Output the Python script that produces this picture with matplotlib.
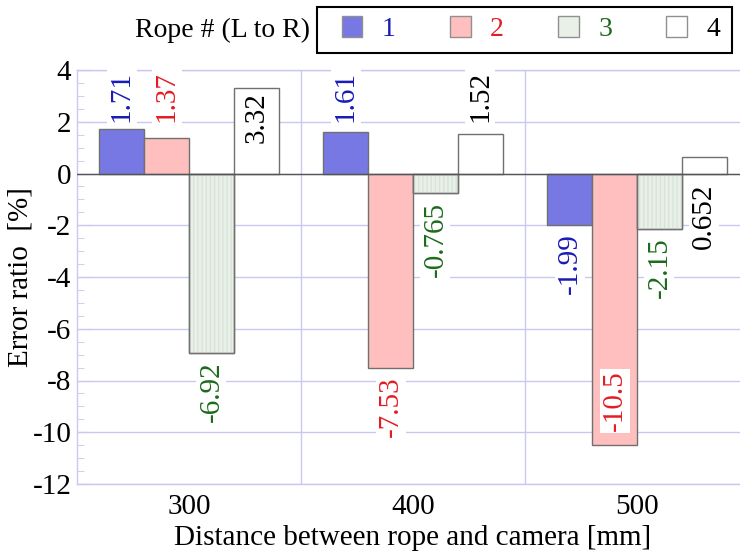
import numpy as np
import matplotlib.pyplot as plt
from matplotlib.patches import Patch, Rectangle

plt.rcParams['font.family'] = ['Liberation Serif', 'DejaVu Serif']
plt.rcParams['axes.unicode_minus'] = False

# Data
distances = ['300', '400', '500']
rope1 = [1.71, 1.61, -1.99]
rope2 = [1.37, -7.53, -10.5]
rope3 = [-6.92, -0.765, -2.15]
rope4 = [3.32, 1.52, 0.652]
rope_names = ['1', '2', '3', '4']

# where each value label sits (per distance, per rope)
label_modes = [['above', 'above', 'below', 'inside'],
               ['above', 'below', 'below', 'above'],
               ['below', 'inside', 'below', 'under_zero']]

face_cols = ['#7878e4', '#ffbfbf', '#e8f0e8', '#ffffff']
text_cols = ['#1a1ab8', '#e41c24', '#1c6a1c', '#000000']
grid_col = '#c8c8f0'

fig = plt.figure(figsize=(7.4, 5.54), dpi=100)
ax = fig.add_axes([77/740, 70/554, 672/740, 414/554])

values = np.array([rope1, rope2, rope3, rope4])  # rope x distance
x = np.arange(len(distances))
width = 0.2
offsets = [-0.3, -0.1, 0.1, 0.3]

for i in range(4):
    ax.bar(x + offsets[i], values[i], width, color=face_cols[i],
           edgecolor='#707070', linewidth=1.0, zorder=3)
    if i == 2:
        # faint vertical stripes on rope 3
        ax.bar(x + offsets[i], values[i], width, color='none',
               edgecolor='#d9e4d9', hatch='||||', linewidth=0, zorder=3.5)
        ax.bar(x + offsets[i], values[i], width, color='none',
               edgecolor='#707070', linewidth=1.0, zorder=3.6)

# value labels
for g in range(len(distances)):
    for i in range(4):
        v = values[i][g]
        xp = x[g] + offsets[i]
        mode = label_modes[g][i]
        if mode == 'above':
            xy, dy, va = (xp, 2.0), 0, 'bottom'
        elif mode == 'below':
            xy, dy, va = (xp, v), -6, 'top'
        elif mode == 'inside' and v > 0:
            xy, dy, va = (xp, v), -3, 'top'
        elif mode == 'inside':
            xy, dy, va = (xp, v), 10, 'bottom'
        else:
            xy, dy, va = (xp, 0), -7, 'top'
        ax.annotate(f'{v:.3g}', xy=xy, xytext=(0, dy), textcoords='offset points',
                    rotation=90, ha='center', va=va, fontsize=21, color=text_cols[i],
                    bbox=dict(fc='white', ec='none', pad=1.5), zorder=5)

ax.axhline(0, color='#555555', linewidth=1.0, zorder=4)

ax.set_xlim(-0.5, 2.5)
ax.set_ylim(-12, 4)
ax.set_xticks(x)
ax.set_xticklabels(distances)
ax.set_xticks([0.5, 1.5], minor=True)
ax.set_yticks(np.arange(-12, 5, 2))
ax.set_yticks(np.arange(-12, 4.1, 0.5), minor=True)
ax.tick_params(axis='x', which='both', length=0, labelsize=21, pad=7)
ax.tick_params(axis='y', which='major', direction='in', length=9, color=grid_col,
               labelsize=21, pad=4)
ax.tick_params(axis='y', which='minor', direction='in', length=5, color=grid_col)
ax.grid(True, axis='y', which='major', color=grid_col, linewidth=1.0, zorder=0)
ax.grid(True, axis='x', which='minor', color=grid_col, linewidth=1.0, zorder=0)
ax.set_axisbelow(True)
for s in ax.spines.values():
    s.set_color(grid_col)
    s.set_linewidth(1.0)

ax.set_xlabel('Distance between rope and camera [mm]', fontsize=21, labelpad=4)
ax.set_ylabel('Error ratio  [%]', fontsize=21)
ax.yaxis.set_label_coords(-0.064, 0.5)

# legend on top
handles = [Patch(facecolor=face_cols[i], edgecolor='#909090', linewidth=1.0)
           for i in range(4)]
leg = fig.legend(handles, rope_names, ncol=4, loc='center', frameon=False,
                 bbox_to_anchor=(531/740, 1 - 29/554), fontsize=20,
                 handlelength=0.75, handleheight=0.8, handletextpad=0.7,
                 columnspacing=1.95)
for t, c in zip(leg.get_texts(), text_cols):
    t.set_color(c)
fig.add_artist(Rectangle((317/740, 1 - 53/554), 415/740, 46/554,
                         transform=fig.transFigure, fill=False,
                         edgecolor='black', linewidth=1.5))
fig.text(310/740, 1 - 30/554, 'Rope # (L to R)', ha='right', va='center', fontsize=20)

fig.savefig('out.png', dpi=100)
